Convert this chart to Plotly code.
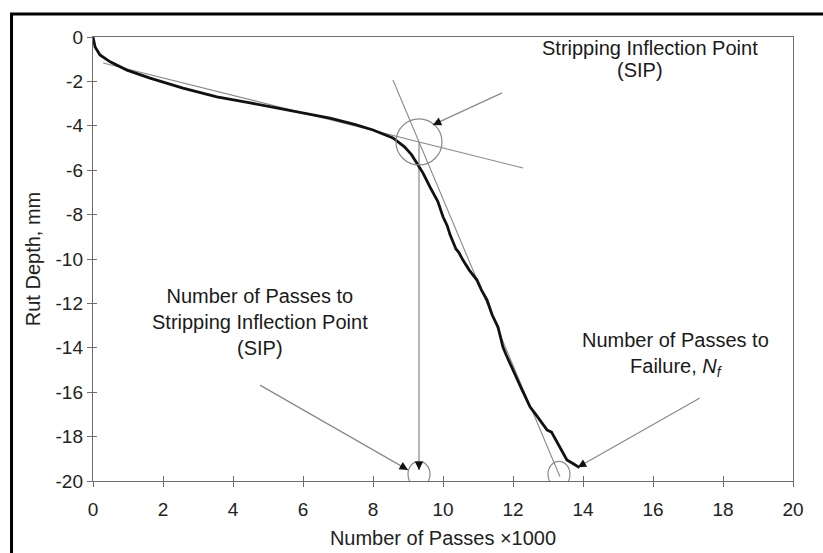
import plotly.graph_objects as go

# Rut depth vs. load passes (thousands)
passes = [0, 0.06, 0.2, 0.49, 0.97, 1.63, 2.57, 3.54, 4.49, 5.91, 6.77, 7.5, 8.0,
          8.57, 8.9, 9.1, 9.26, 9.35, 9.43, 9.63, 9.85, 10.0, 10.08, 10.12, 10.2,
          10.37, 10.45, 10.57, 10.75, 10.97, 11.1, 11.26, 11.4, 11.5, 11.57, 11.64,
          11.71, 11.8, 11.91, 12.05, 12.2, 12.35, 12.49, 12.65, 12.77, 12.9, 12.97,
          13.1, 13.2, 13.34, 13.45, 13.54, 13.7, 13.8, 13.9]
rut_depth = [0, -0.45, -0.81, -1.12, -1.49, -1.85, -2.3, -2.7, -2.97, -3.38, -3.65,
             -3.95, -4.19, -4.55, -4.95, -5.3, -5.68, -5.95, -6.13, -6.76, -7.4,
             -8.1, -8.35, -8.5, -8.9, -9.55, -9.7, -10.05, -10.5, -10.95, -11.4,
             -11.85, -12.5, -12.8, -13.06, -13.5, -13.96, -14.3, -14.7, -15.2, -15.7,
             -16.2, -16.67, -17.0, -17.25, -17.55, -17.7, -17.8, -18.1, -18.47,
             -18.8, -19.05, -19.2, -19.3, -19.4]

# Tangent to the creep (secondary) slope
creep_x = [0.29, 12.29]
creep_y = [-1.17, -5.9]
# Tangent to the stripping slope
strip_x = [8.57, 13.34]
strip_y = [-1.94, -19.8]

x_ticks = [0, 2, 4, 6, 8, 10, 12, 14, 16, 18, 20]
y_ticks = [0, -2, -4, -6, -8, -10, -12, -14, -16, -18, -20]

FONT = "Liberation Sans, Arial, sans-serif"
GRAY = "#8a8a8a"
AXIS = "#6e6e6e"

# Stripping inflection point = intersection of the two tangents
m1 = (creep_y[1] - creep_y[0]) / (creep_x[1] - creep_x[0])
m2 = (strip_y[1] - strip_y[0]) / (strip_x[1] - strip_x[0])
sip_x = (strip_y[0] - creep_y[0] + m1 * creep_x[0] - m2 * strip_x[0]) / (m1 - m2)
sip_y = creep_y[0] + m1 * (sip_x - creep_x[0])
# Where the stripping tangent reaches the bottom marker level
bottom_y = -19.7
nf_x = strip_x[0] + (bottom_y - strip_y[0]) / m2

# Leader arrows: (start x, start y, tip x, tip y)
leaders = [
    (11.69, -2.52, 9.71, -3.96),
    (4.77, -15.68, 9.0, -19.5),
    (17.34, -16.26, 13.85, -19.38),
    (sip_x, sip_y, sip_x, -19.5),
]

fig = go.Figure()

fig.add_trace(go.Scatter(x=creep_x, y=creep_y, mode="lines",
                         line=dict(color=GRAY, width=1.1), hoverinfo="skip"))
fig.add_trace(go.Scatter(x=strip_x, y=strip_y, mode="lines",
                         line=dict(color=GRAY, width=1.1), hoverinfo="skip"))
for x0, y0, x1, y1 in leaders:
    fig.add_trace(go.Scatter(x=[x0, x1], y=[y0, y1], mode="lines",
                             line=dict(color=GRAY, width=1.25), hoverinfo="skip"))
fig.add_trace(go.Scatter(x=passes, y=rut_depth, mode="lines",
                         line=dict(color="#111111", width=2.8), hoverinfo="skip"))

# invisible overlay axes carrying the inward half of the tick marks
fig.add_trace(go.Scatter(x=[None], y=[None], xaxis="x2", yaxis="y2",
                         showlegend=False, hoverinfo="skip"))

shapes = [
    # circle around the SIP
    dict(type="circle", xref="x", yref="y", xsizemode="pixel", ysizemode="pixel",
         xanchor=sip_x, yanchor=sip_y, x0=-23, x1=23, y0=-23, y1=23,
         line=dict(color=GRAY, width=1.2)),
    # small ellipses on the abscissa
    dict(type="circle", xref="x", yref="y", xsizemode="pixel", ysizemode="pixel",
         xanchor=sip_x, yanchor=bottom_y, x0=-11, x1=11, y0=-13, y1=13,
         line=dict(color=GRAY, width=1.2)),
    dict(type="circle", xref="x", yref="y", xsizemode="pixel", ysizemode="pixel",
         xanchor=nf_x, yanchor=bottom_y, x0=-11, x1=11, y0=-13, y1=13,
         line=dict(color=GRAY, width=1.2)),
    # outer black frame (top and left edges visible)
    dict(type="rect", xref="paper", yref="paper", x0=-0.1164, x1=1.06,
         y0=-0.2, y1=1.0518, line=dict(color="black", width=3), layer="above"),
]

PX_X = 35.0   # pixels per x unit
PX_Y = 22.2   # pixels per y unit

# black arrowheads at the leader tips
annotations = []
for x0, y0, x1, y1 in leaders:
    dx = (x0 - x1) * PX_X
    dy = -(y0 - y1) * PX_Y
    n = (dx * dx + dy * dy) ** 0.5
    annotations.append(dict(x=x1, y=y1, ax=dx / n * 9, ay=dy / n * 9,
                            xref="x", yref="y", text="", showarrow=True,
                            arrowhead=2, arrowsize=1.4, arrowwidth=1.2,
                            arrowcolor="#111111"))

txt = dict(color="#1a1a1a", size=20, family=FONT)
annotations += [
    dict(x=15.90, y=-0.50, xref="x", yref="y", text="Stripping Inflection Point",
         showarrow=False, font=txt),
    dict(x=15.63, y=-1.49, xref="x", yref="y", text="(SIP)",
         showarrow=False, font=txt),
    dict(x=4.77, y=-12.84, xref="x", yref="y",
         text="Number of Passes to<br>Stripping Inflection Point<br>(SIP)",
         showarrow=False, font=txt),
    dict(x=16.63, y=-14.32, xref="x", yref="y",
         text="Number of Passes to<br>Failure, <i>N</i><sub><i>f</i></sub>",
         showarrow=False, font=txt),
]

axis_common = dict(showgrid=False, zeroline=False, ticks="outside", ticklen=5,
                   tickwidth=1.2, tickcolor=AXIS, linecolor=AXIS, linewidth=1.4,
                   showline=True, mirror=True, automargin=False,
                   tickfont=dict(size=19, color="#222222", family=FONT))

fig.update_layout(
    width=823, height=553,
    margin=dict(l=93, r=30, t=37, b=72),
    paper_bgcolor="white", plot_bgcolor="white",
    showlegend=False,
    font=dict(family=FONT, color="#222222"),
    xaxis=dict(range=[0, 20], tickvals=x_ticks, ticktext=[str(v) for v in x_ticks],
               ticklabelstandoff=6,
               title=dict(text="Number of Passes ×1000", font=dict(size=20), standoff=11),
               **axis_common),
    yaxis=dict(range=[-20, 0], tickvals=y_ticks, ticktext=[str(v) for v in y_ticks],
               title=dict(text="Rut Depth, mm", font=dict(size=20), standoff=9),
               **axis_common),
    xaxis2=dict(range=[0, 20], tickvals=x_ticks, overlaying="x", ticks="inside",
                ticklen=5, tickwidth=1.2, tickcolor=AXIS, showticklabels=False,
                showgrid=False, zeroline=False, showline=False),
    yaxis2=dict(range=[-20, 0], tickvals=y_ticks, overlaying="y", ticks="inside",
                ticklen=4, tickwidth=1.2, tickcolor=AXIS, showticklabels=False,
                showgrid=False, zeroline=False, showline=False),
    shapes=shapes,
    annotations=annotations,
)

fig.write_html("out.html")
